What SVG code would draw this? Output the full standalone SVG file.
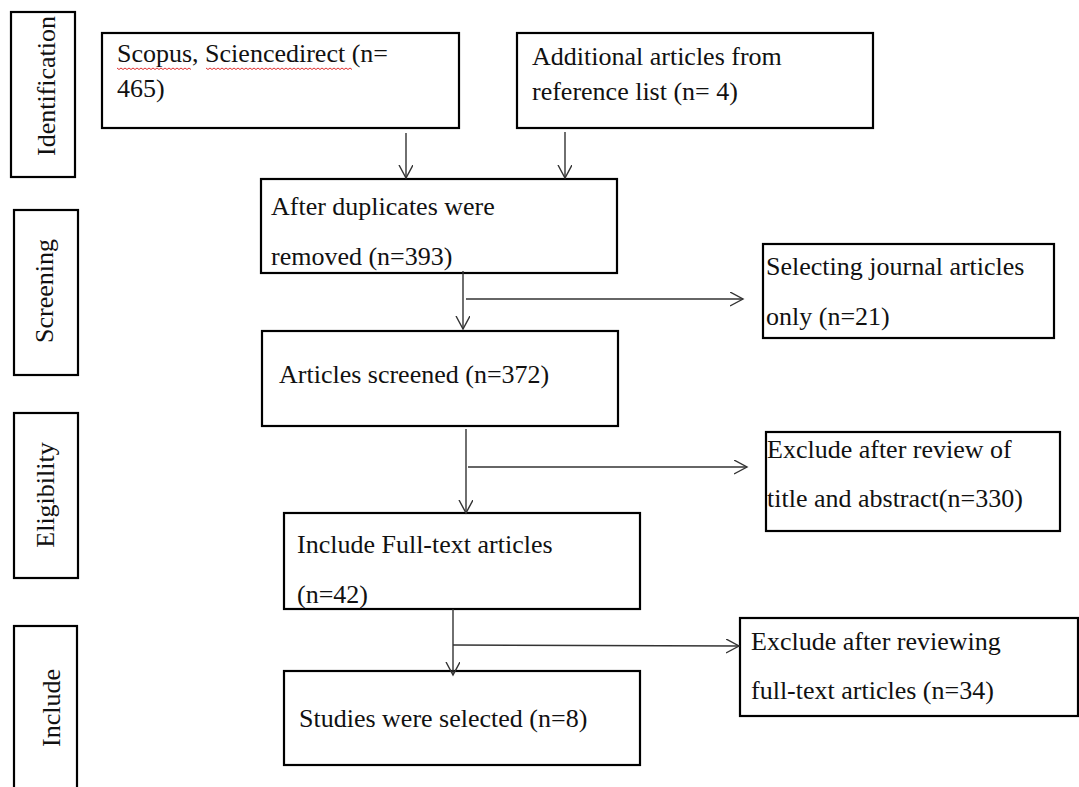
<svg xmlns="http://www.w3.org/2000/svg" width="1079" height="787" viewBox="0 0 1079 787">
<style>
.box{fill:#fff;stroke:#000;stroke-width:2.2}
.t{font-family:"Liberation Serif","Times New Roman",serif;font-size:26px;fill:#111}
.lbl{font-family:"Liberation Serif","Times New Roman",serif;font-size:26px;fill:#111;text-anchor:middle}
.c{stroke:#333;stroke-width:1.4;fill:none}
.sq{stroke:#e03030;stroke-width:1;fill:none}
</style>
<defs>
<marker id="ah" markerUnits="userSpaceOnUse" markerWidth="16" markerHeight="16" refX="13" refY="7" orient="auto">
<path d="M0,0 L13,7 L0,14" fill="none" stroke="#333" stroke-width="1.4"/>
</marker>
</defs>
<rect width="1079" height="787" fill="#fff"/>

<g id="stage-identification">
<rect class="box" x="11" y="12" width="64" height="165"/>
<text class="lbl" transform="translate(55,86) rotate(-90)">Identification</text>
</g>
<g id="stage-screening">
<rect class="box" x="14" y="210" width="64" height="165"/>
<text class="lbl" transform="translate(53,291) rotate(-90)">Screening</text>
</g>
<g id="stage-eligibility">
<rect class="box" x="14" y="413" width="64" height="165"/>
<text class="lbl" transform="translate(54,495) rotate(-90)">Eligibility</text>
</g>
<g id="stage-include">
<rect class="box" x="14" y="626" width="63" height="170"/>
<text class="lbl" transform="translate(60,708) rotate(-90)">Include</text>
</g>

<g id="node-scopus">
<rect class="box" x="102" y="33" width="357" height="95"/>
<text class="t" x="117" y="62">Scopus, Sciencedirect (n=</text>
<text class="t" x="117" y="97">465)</text>
<path class="sq" d="M117,68 l2,1.5 l2,-1.5 l2,1.5 l2,-1.5 l2,1.5 l2,-1.5 l2,1.5 l2,-1.5 l2,1.5 l2,-1.5 l2,1.5 l2,-1.5 l2,1.5 l2,-1.5 l2,1.5 l2,-1.5 l2,1.5 l2,-1.5 l2,1.5 l2,-1.5 l2,1.5 l2,-1.5 l2,1.5 l2,-1.5 l2,1.5 l2,-1.5 l2,1.5 l2,-1.5 l2,1.5 l2,-1.5 l2,1.5 l2,-1.5 l2,1.5 l2,-1.5 l2,1.5 l2,-1.5 l2,1.5"/>
<path class="sq" d="M206,68 l2,1.5 l2,-1.5 l2,1.5 l2,-1.5 l2,1.5 l2,-1.5 l2,1.5 l2,-1.5 l2,1.5 l2,-1.5 l2,1.5 l2,-1.5 l2,1.5 l2,-1.5 l2,1.5 l2,-1.5 l2,1.5 l2,-1.5 l2,1.5 l2,-1.5 l2,1.5 l2,-1.5 l2,1.5 l2,-1.5 l2,1.5 l2,-1.5 l2,1.5 l2,-1.5 l2,1.5 l2,-1.5 l2,1.5 l2,-1.5 l2,1.5 l2,-1.5 l2,1.5 l2,-1.5 l2,1.5 l2,-1.5 l2,1.5 l2,-1.5 l2,1.5 l2,-1.5 l2,1.5 l2,-1.5 l2,1.5 l2,-1.5 l2,1.5 l2,-1.5 l2,1.5 l2,-1.5 l2,1.5 l2,-1.5 l2,1.5 l2,-1.5 l2,1.5 l2,-1.5 l2,1.5 l2,-1.5 l2,1.5 l2,-1.5 l2,1.5 l2,-1.5 l2,1.5 l2,-1.5 l2,1.5 l2,-1.5 l2,1.5 l2,-1.5 l2,1.5 l2,-1.5 l2,1.5 l2,-1.5 l2,1.5"/>
</g>
<g id="node-additional">
<rect class="box" x="517" y="33" width="356" height="95"/>
<text class="t" x="532" y="65">Additional articles from</text>
<text class="t" x="532" y="100">reference list (n= 4)</text>
</g>
<g id="node-duplicates">
<rect class="box" x="261" y="179" width="356" height="94"/>
<text class="t" x="271" y="215">After duplicates were</text>
<text class="t" x="271" y="265">removed (n=393)</text>
</g>
<g id="node-journal">
<rect class="box" x="763" y="244" width="291" height="94"/>
<text class="t" x="766" y="275">Selecting journal articles</text>
<text class="t" x="766" y="325">only (n=21)</text>
</g>
<g id="node-screened">
<rect class="box" x="262" y="331" width="356" height="95"/>
<text class="t" x="279" y="383">Articles screened (n=372)</text>
</g>
<g id="node-exclude-title">
<rect class="box" x="766" y="432" width="294" height="99"/>
<text class="t" x="767" y="458">Exclude after review of</text>
<text class="t" x="767" y="507">title and abstract(n=330)</text>
</g>
<g id="node-fulltext">
<rect class="box" x="284" y="513" width="356" height="96"/>
<text class="t" x="297" y="553">Include Full-text articles</text>
<text class="t" x="297" y="603">(n=42)</text>
</g>
<g id="node-exclude-fulltext">
<rect class="box" x="740" y="618" width="338" height="98"/>
<text class="t" x="751" y="650">Exclude after reviewing</text>
<text class="t" x="751" y="699">full-text articles (n=34)</text>
</g>
<g id="node-selected">
<rect class="box" x="284" y="671" width="356" height="94"/>
<text class="t" x="299" y="727">Studies were selected (n=8)</text>
</g>

<g id="connectors">
<line class="c" x1="406" y1="133" x2="406" y2="178" marker-end="url(#ah)"/>
<line class="c" x1="565" y1="132" x2="565" y2="178" marker-end="url(#ah)"/>
<line class="c" x1="463" y1="271" x2="463" y2="329" marker-end="url(#ah)"/>
<line class="c" x1="466" y1="299" x2="743" y2="299" marker-end="url(#ah)"/>
<line class="c" x1="466" y1="429" x2="466" y2="513" marker-end="url(#ah)"/>
<line class="c" x1="468" y1="467" x2="747" y2="467" marker-end="url(#ah)"/>
<line class="c" x1="453" y1="609" x2="453" y2="675" marker-end="url(#ah)"/>
<line class="c" x1="453" y1="645" x2="739" y2="646" marker-end="url(#ah)"/>
</g>
</svg>
